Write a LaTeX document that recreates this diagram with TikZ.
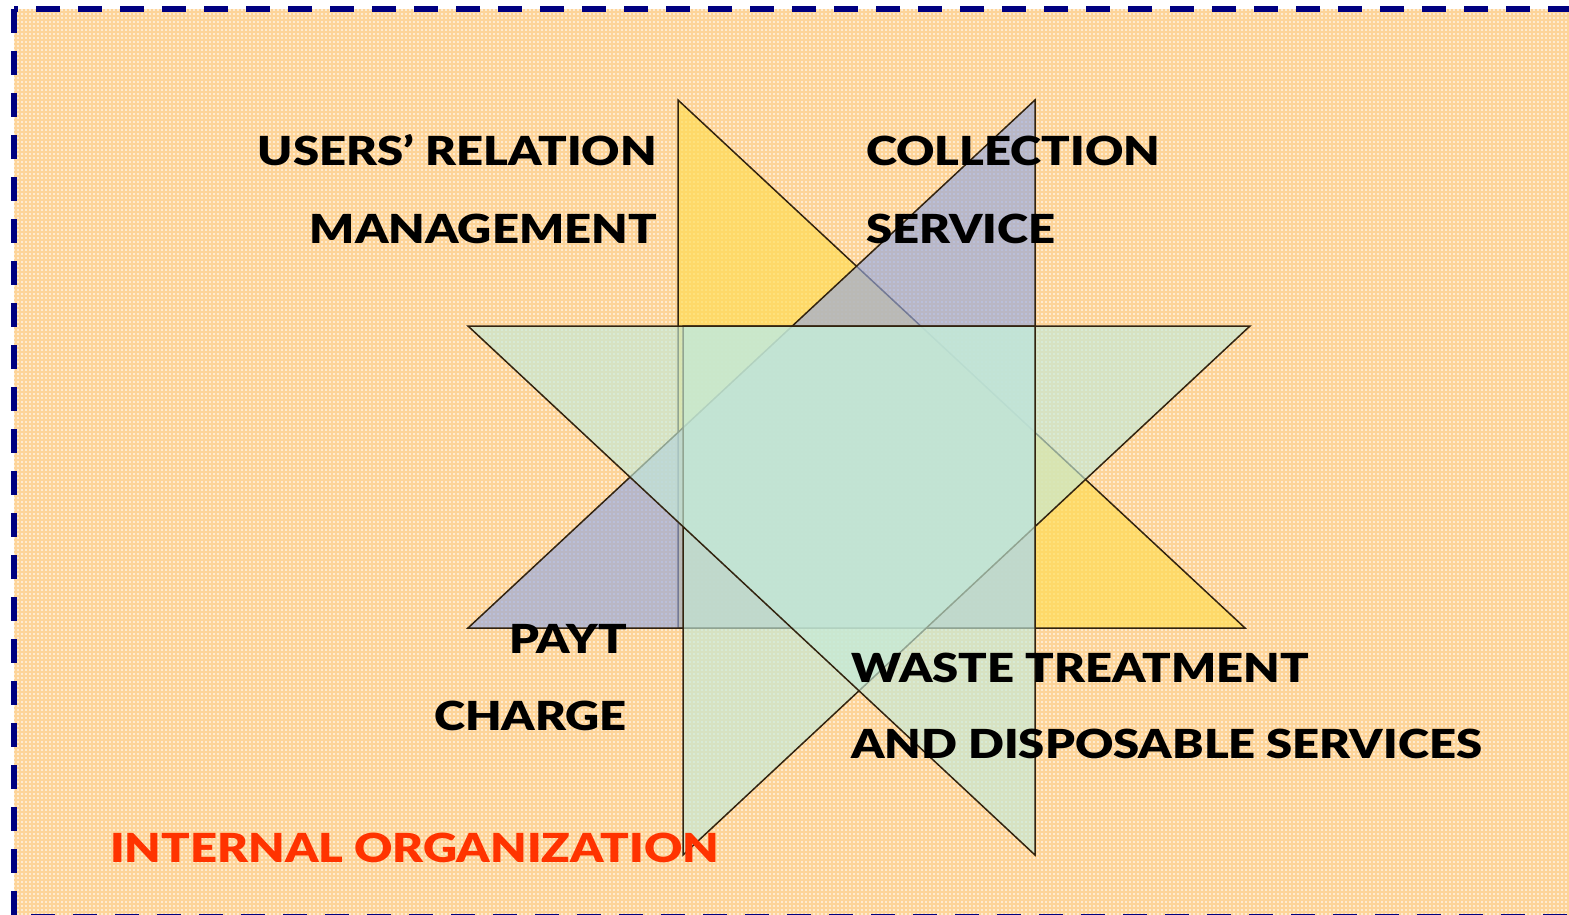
\documentclass[tikz,border=0pt]{standalone}
\usepackage{fontspec}
\setmainfont{Lato}
\newfontfamily\capfont{Lato Black}[FakeStretch=1.18]
\usetikzlibrary{calc}

\definecolor{peach}{RGB}{254,235,208}
\definecolor{gridorange}{RGB}{253,190,100}
\definecolor{framenavy}{RGB}{0,0,128}
\definecolor{edgebrown}{RGB}{50,35,15}
\definecolor{triyellow}{RGB}{255,220,80}
\definecolor{triblue}{RGB}{150,168,222}
\definecolor{tricyan}{RGB}{196,234,216}
\definecolor{orgred}{RGB}{255,51,0}

\begin{document}
\begin{tikzpicture}[x=1pt,y=-1pt,
    tri/.style={draw=edgebrown, line width=1.5pt, line join=miter, fill opacity=0.65},
    caption/.style={font=\capfont\fontsize{40}{48}\selectfont, inner sep=0pt}]
    \useasboundingbox (0,0) rectangle (1569,915);
    \fill[peach] (14,9) rectangle (1569,915);
    \draw[gridorange, line width=1.1pt, opacity=0.5, step=4pt] (14,9) grid (1569,915);
    % dashed frame, cut by the right edge of the page
    \draw[framenavy, line width=6pt, dash pattern=on 24pt off 18pt, dash phase=20pt] (14,9) -- (1600,9);
    \draw[framenavy, line width=6pt, dash pattern=on 24pt off 18pt] (14,9) -- (14,917);
    \draw[framenavy, line width=6pt, dash pattern=on 24pt off 18pt, dash phase=25pt] (14,917) -- (1600,917);
    % the four triangles
    \filldraw[tri, fill=triyellow] (678,100) -- (678,628) -- (1245,628) -- cycle;
    \filldraw[tri, fill=triblue] (1035,100) -- (1035,628) -- (468,628) -- cycle;
    \filldraw[tri, fill=tricyan] (683,326) -- (1250,326) -- (683,855) -- cycle;
    \filldraw[tri, fill=tricyan] (468,326) -- (1035,326) -- (1035,855) -- cycle;
    % captions
    \node[caption, anchor=base east] (users) at (657,166) {USERS’ RELATION};
    \node[caption, anchor=base east] (manage) at (657,243) {MANAGEMENT};
    \node[caption, anchor=base west] (collect) at (866,166) {COLLECTION};
    \node[caption, anchor=base west] (service) at (866,243) {SERVICE};
    \node[caption, anchor=base east] (payt) at (627,653) {PAYT};
    \node[caption, anchor=base east] (charge) at (627,730) {CHARGE};
    \node[caption, anchor=base west] (waste) at (851,682) {WASTE TREATMENT};
    \node[caption, anchor=base west] (dispose) at (851,758) {AND DISPOSABLE SERVICES};
    \node[caption, anchor=base west, text=orgred] (internal) at (110,862) {INTERNAL ORGANIZATION};
\end{tikzpicture}
\end{document}
